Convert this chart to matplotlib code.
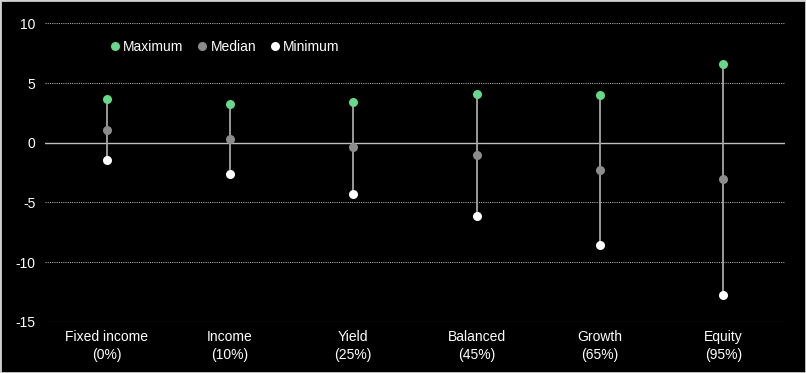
import matplotlib.pyplot as plt
from matplotlib.patches import Rectangle

plt.rcParams['font.family'] = ['Liberation Sans', 'DejaVu Sans']

# portfolio categories and return ranges
categories = ['Fixed income\n(0%)', 'Income\n(10%)', 'Yield\n(25%)',
              'Balanced\n(45%)', 'Growth\n(65%)', 'Equity\n(95%)']
maximum = [3.7, 3.25, 3.45, 4.1, 4.0, 6.6]
median = [1.1, 0.3, -0.35, -1.0, -2.3, -3.05]
minimum = [-1.45, -2.6, -4.25, -6.1, -8.6, -12.75]
yticks = [10, 5, 0, -5, -10, -15]

fig = plt.figure(figsize=(8.06, 3.73), dpi=100, facecolor='black')
ax = fig.add_axes([0.0558, 0.137, 0.918, 0.8005])
ax.set_facecolor('black')

x = list(range(len(categories)))

# dotted grid + solid zero line
for t in yticks:
    if t == 0:
        ax.axhline(0, color='#bfbfbf', lw=1.0, zorder=1)
    else:
        ax.axhline(t, color='#a6a6a6', lw=0.8, ls=(0, (1, 1)), zorder=1)

ax.vlines(x, minimum, maximum, color='#a6a6a6', lw=1.3, zorder=2)
ax.plot(x, maximum, 'o', color='#66d98a', ms=6.5, mec='none', zorder=3, label='Maximum')
ax.plot(x, median, 'o', color='#8c8c8c', ms=6.5, mec='none', zorder=3, label='Median')
ax.plot(x, minimum, 'o', color='white', ms=6.5, mec='none', zorder=3, label='Minimum')

ax.set_xlim(-0.5, len(categories) - 0.5)
ax.set_ylim(-15, 10)
ax.set_yticks(yticks)
ax.set_yticklabels([str(t) for t in yticks])
ax.set_xticks(x)
ax.set_xticklabels(categories, linespacing=1.3)
ax.tick_params(axis='both', colors='white', labelsize=10, length=0)
ax.tick_params(axis='y', pad=7)
ax.tick_params(axis='x', pad=6)
for s in ax.spines.values():
    s.set_visible(False)

leg = ax.legend(loc='center left', bbox_to_anchor=(0.085, 0.92), ncol=3, frameon=False,
                handletextpad=0.1, columnspacing=0.85, handlelength=1.0,
                fontsize=10, labelcolor='white', borderpad=0, borderaxespad=0)

fig.patches.append(Rectangle((0, 0), 1, 1, transform=fig.transFigure, fill=False,
                             edgecolor='#d0d0d0', lw=2))

fig.savefig('out.png', dpi=100, facecolor='black')
